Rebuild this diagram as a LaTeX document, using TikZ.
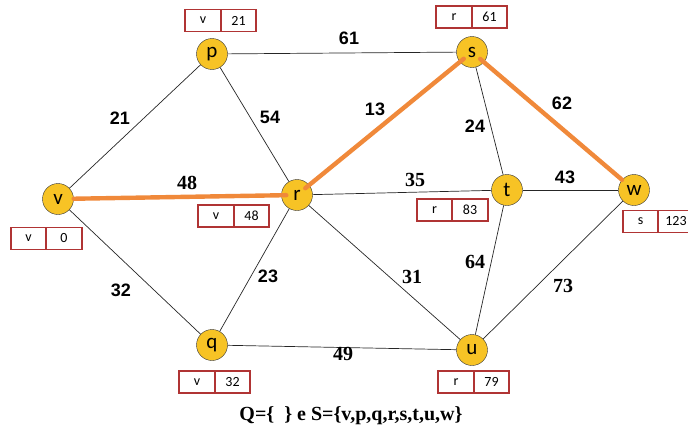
\documentclass[tikz,border=0pt]{standalone}
\usepackage{fontspec}
\setmainfont{Liberation Serif}
\setsansfont{Liberation Sans}
\newfontfamily\calibfont{Carlito}
\usetikzlibrary{positioning}
\definecolor{nodegold}{HTML}{F7C325}
\definecolor{pathorange}{HTML}{F0893A}
\definecolor{boxred}{HTML}{B03434}

\begin{document}
\begin{tikzpicture}[x=1pt, y=-1pt,
    vtx/.style={circle, draw=black!80, fill=nodegold, minimum size=31pt, inner sep=0pt, font=\calibfont\fontsize{21}{21}\selectfont},
    edg/.style={black!85, line width=0.7pt},
    best/.style={pathorange, line width=4.4pt, line cap=round},
    cell/.style={draw=boxred, line width=1.8pt, outer sep=0pt, minimum width=35.5pt, minimum height=22pt, inner sep=0pt, font=\calibfont\fontsize{14}{14}\selectfont},
    wsans/.style={font=\sffamily\bfseries\fontsize{18}{18}\selectfont},
    wserif/.style={font=\rmfamily\bfseries\fontsize{20}{20}\selectfont},
]
    \useasboundingbox (0,0) rectangle (688,431);

    % Vertices
    \node[vtx] (v) at (58,199) {v};
    \node[vtx] (p) at (212,54) {p};
    \node[vtx] (q) at (212,345) {q};
    \node[vtx] (r) at (297,195) {r};
    \node[vtx] (s) at (472,52) {s};
    \node[vtx] (t) at (507,190) {t};
    \node[vtx] (u) at (472,350) {u};
    \node[vtx] (w) at (634,190) {w};

    % Edges
    \begin{scope}[on background layer/.try]
    \draw[edg] (v) -- (p);
    \draw[edg] (v) -- (q);
    \draw[edg] (p) -- (s);
    \draw[edg] (p) -- (r);
    \draw[edg] (q) -- (r);
    \draw[edg] (q) -- (u);
    \draw[edg] (r) -- (t);
    \draw[edg] (r) -- (u);
    \draw[edg] (s) -- (t);
    \draw[edg] (t) -- (w);
    \draw[edg] (t) -- (u);
    \draw[edg] (u) -- (w);
    \end{scope}

    % Shortest path tree
    \draw[best, shorten >=-5pt] (v) -- (r);
    \draw[best, shorten <=-5pt, shorten >=-5pt] (r) -- (s);
    \draw[best, shorten <=-5pt] (s) -- (w);

    % Weights
    \node[wsans] (l61) at (349,38) {61};
    \node[wsans] (l21) at (120,118) {21};
    \node[wsans] (l54) at (270,117) {54};
    \node[wsans] (l13) at (375,109) {13};
    \node[wsans] (l24) at (475,126) {24};
    \node[wsans] (l62) at (562,103) {62};
    \node[wserif] (l48) at (187,183) {48};
    \node[wserif] (l35) at (415,180) {35};
    \node[wsans] (l43) at (565,177) {43};
    \node[wsans] (l32) at (121,290) {32};
    \node[wsans] (l23) at (268,276) {23};
    \node[wserif] (l31) at (412,277) {31};
    \node[wserif] (l64) at (475,262) {64};
    \node[wserif] (l73) at (563,286) {73};
    \node[wserif] (l49) at (343,354) {49};

    % Labels (predecessor, distance)
    \node[cell] (pa) at (203,20.5) {v};
    \node[cell, right=0pt of pa] (pb) {21};
    \node[cell] (sa) at (454,17) {r};
    \node[cell, right=0pt of sa] (sb) {61};
    \node[cell] (va) at (28.5,238.5) {v};
    \node[cell, right=0pt of va] (vb) {0};
    \node[cell] (ra) at (216,216) {v};
    \node[cell, right=0pt of ra] (rb) {48};
    \node[cell] (ta) at (434.5,210) {r};
    \node[cell, right=0pt of ta] (tb) {83};
    \node[cell] (wa) at (640.5,221.5) {s};
    \node[cell, right=0pt of wa] (wb) {123};
    \node[cell] (qa) at (197,382) {v};
    \node[cell, right=0pt of qa] (qb) {32};
    \node[cell] (ua) at (456,382) {r};
    \node[cell, right=0pt of ua] (ub) {79};

    \node[font=\rmfamily\bfseries\fontsize{20}{20}\selectfont] (sets) at (351,416) {Q=\{\ \ \} e S=\{v,p,q,r,s,t,u,w\}};
\end{tikzpicture}
\end{document}
